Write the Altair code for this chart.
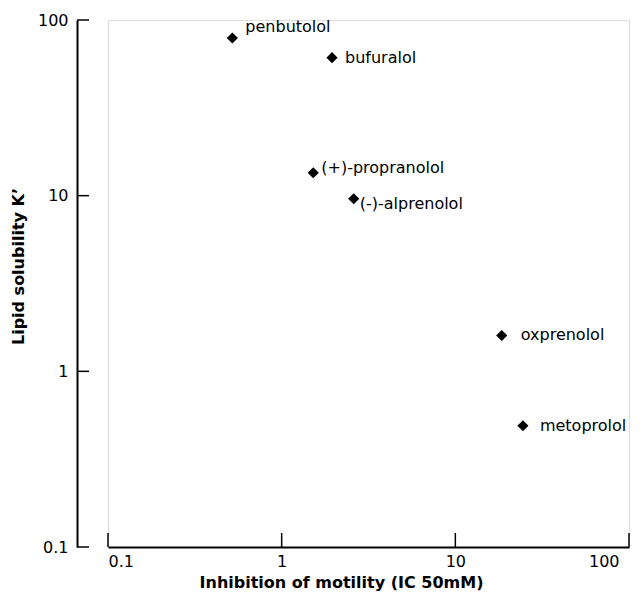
import altair as alt
import pandas as pd

# ---- data ----
drugs = ["penbutolol", "bufuralol", "(+)-propranolol", "(-)-alprenolol", "oxprenolol", "metoprolol"]
ic50 = [0.52, 1.95, 1.52, 2.6, 18.5, 24.5]          # Inhibition of motility (IC50 mM)
lipid = [79, 61, 13.5, 9.6, 1.6, 0.49]             # Lipid solubility K'
tick_values = [0.1, 1, 10, 100]

# label offsets (style only)
label_offsets = {
    "penbutolol": (13, -11),
    "bufuralol": (13, 0),
    "(+)-propranolol": (8, -5),
    "(-)-alprenolol": (6, 5),
    "oxprenolol": (19, 0),
    "metoprolol": (17, 0),
}

df = pd.DataFrame({"drug": drugs, "x": ic50, "y": lipid})
ticks_df = pd.DataFrame({"x": tick_values, "y": tick_values})

FONT = "DejaVu Sans"
W, H = 521, 527

label_expr = "datum.value < 1 ? '0.1' : format(datum.value, 'd')"

x_axis = alt.Axis(
    values=tick_values, labelExpr=label_expr, ticks=False, grid=False,
    domainColor="black", domainWidth=2, labelFont=FONT, labelFontSize=16,
    labelColor="black", labelPadding=6, labelBound=False,
    labelOffset={"condition": {"test": "datum.value >= 100", "value": -10}, "value": 0},
    title="Inhibition of motility (IC 50mM)",
    titleFont=FONT, titleFontSize=16, titleFontWeight="bold", titleColor="black",
    titlePadding=5, titleX=233,
)
y_axis = alt.Axis(
    values=tick_values, labelExpr=label_expr, ticks=False, grid=False, offset=31,
    domainColor="black", domainWidth=2, labelFont=FONT, labelFontSize=16,
    labelColor="black", labelPadding=9, title="Lipid solubility K\u2019",
    titleFont=FONT, titleFontSize=16, titleFontWeight="bold", titleColor="black",
    titlePadding=11, titleY=246,
)

xs = alt.Scale(type="log", domain=[0.1, 100], nice=False)
ys = alt.Scale(type="log", domain=[0.1, 100], nice=False)

X = alt.X("x:Q", scale=xs, axis=x_axis)
Y = alt.Y("y:Q", scale=ys, axis=y_axis)

points = alt.Chart(df).mark_point(shape="diamond", filled=True, color="black", size=125, opacity=1).encode(x=X, y=Y)

x_ticks = alt.Chart(ticks_df).mark_rule(color="black", strokeWidth=1.5).encode(
    x=X, y=alt.value(H), y2=alt.value(H - 14)
)
y_ticks = alt.Chart(ticks_df).mark_rule(color="black", strokeWidth=1.5).encode(
    y=Y, x=alt.value(-31), x2=alt.value(-19)
)

labels = []
for d in drugs:
    dx, dy = label_offsets[d]
    labels.append(
        alt.Chart(df).transform_filter(alt.datum.drug == d)
        .mark_text(align="left", baseline="middle", dx=dx, dy=dy, font=FONT, fontSize=16, color="black")
        .encode(x=X, y=Y, text="drug:N")
    )

chart = alt.layer(x_ticks, y_ticks, points, *labels).properties(
    width=W, height=H,
    autosize=alt.AutoSizeParams(type="none"),
    padding={"left": 100, "top": 12, "right": 5, "bottom": 49},
).configure_view(stroke=None).configure(background="white")

chart.save("out.html", embed_options={"renderer": "svg", "actions": False})
